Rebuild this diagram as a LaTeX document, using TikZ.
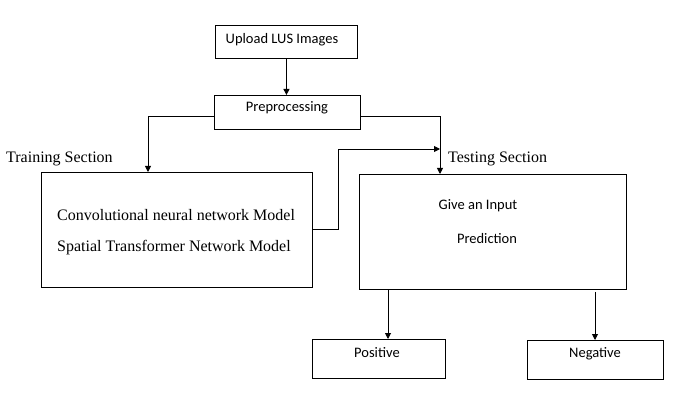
\documentclass[tikz,border=0pt]{standalone}
\usepackage{fontspec}
\setmainfont{Liberation Serif}
\newfontfamily\calib{Carlito}
\usetikzlibrary{arrows.meta}
\begin{document}
\begin{tikzpicture}[x=1pt,y=-1pt,
  box/.style={draw, line width=0.9pt, inner sep=0pt, anchor=north west},
  stxt/.style={font=\calib\fontsize{14.5}{16}\selectfont, inner sep=0pt},
  rtxt/.style={font=\fontsize{16}{18}\selectfont, inner sep=0pt},
  arr/.style={line width=0.9pt, -{Triangle[width=6pt,length=6pt]}},
  ln/.style={line width=0.9pt}]
\useasboundingbox (0,0) rectangle (674,403);
% boxes
\node[box, minimum width=142pt, minimum height=33pt] (up) at (215,25) {};
\node[box, minimum width=146pt, minimum height=34pt] (pre) at (214,95) {};
\node[box, minimum width=271pt, minimum height=115pt] (train) at (41,172) {};
\node[box, minimum width=267pt, minimum height=115pt] (test) at (359,174) {};
\node[box, minimum width=133pt, minimum height=39pt] (pos) at (312,339) {};
\node[box, minimum width=136pt, minimum height=39pt] (neg) at (527,340) {};
% texts
\node[stxt] (tup) at (282,40) {Upload LUS Images};
\node[stxt] (tpre) at (287,108) {Preprocessing};
\node[rtxt, anchor=west] (ttrs) at (6,159) {Training Section};
\node[rtxt, anchor=west] (ttes) at (448,159) {Testing Section};
\node[rtxt, anchor=west] (tcnn) at (57,215) {Convolutional neural network Model};
\node[rtxt, anchor=west] (tstn) at (57,248) {Spatial Transformer Network Model};
\node[stxt] (tgive) at (478,206) {Give an Input};
\node[stxt] (tpred) at (487,239) {Prediction};
\node[stxt] (tpos) at (377,353) {Positive};
\node[stxt] (tneg) at (595,354) {Negative};
% helper coordinates
\coordinate (cl) at (148,0);
\coordinate (cr) at (440,0);
\coordinate (cm) at (440,149);
\coordinate (cp) at (388,0);
\coordinate (cn) at (595,0);
% connectors
\draw[arr] (up.south) -- (up.south |- pre.north);
\draw[arr] ([yshift=-4pt]pre.west) -| (train.north -| cl);
\draw[arr] ([yshift=-4pt]pre.east) -| (test.north -| cr);
\draw[arr] (train.east) -- ++(26,0) |- (cm);
\draw[arr] (test.south -| cp) -- (pos.north -| cp);
\draw[arr] ([yshift=-2pt]test.south -| cn) -- (neg.north -| cn);
\end{tikzpicture}
\end{document}
